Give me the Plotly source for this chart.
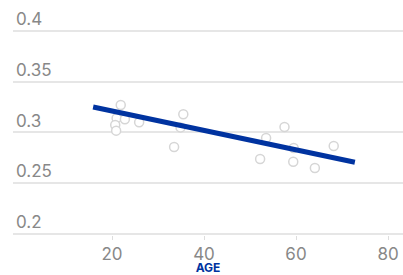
import plotly.graph_objects as go

# Scatter data: age vs value
ages = [21.9, 21.0, 22.8, 20.7, 20.9, 25.9, 35.5, 34.9, 33.5,
        53.5, 52.2, 57.5, 59.5, 59.4, 64.1, 68.2]
values = [0.327, 0.314, 0.313, 0.3074, 0.3018, 0.310, 0.318, 0.305, 0.2857,
          0.2946, 0.2739, 0.3054, 0.2847, 0.2712, 0.265, 0.2867]

# Trend line endpoints
trend_x = [15.9, 72.8]
trend_y = [0.3251, 0.2706]

x_ticks = [20, 40, 60, 80]
y_ticks = [0.2, 0.25, 0.3, 0.35, 0.4]
y_tick_labels = ["0.2", "0.25", "0.3", "0.35", "0.4"]

BLUE = "#0033a0"
FONT = "Inter, Roboto, sans-serif"

fig = go.Figure()
fig.add_trace(go.Scatter(
    x=ages, y=values, mode="markers",
    marker=dict(symbol="circle", size=9, color="white",
                line=dict(color="#d6d6d6", width=1.5)),
    hoverinfo="skip", showlegend=False,
))
fig.add_trace(go.Scatter(
    x=trend_x, y=trend_y, mode="lines",
    line=dict(color=BLUE, width=5),
    hoverinfo="skip", showlegend=False,
))

fig.update_layout(
    width=403, height=275,
    margin=dict(l=13, r=0, t=0, b=40),
    paper_bgcolor="white", plot_bgcolor="white",
    font=dict(family=FONT, color="#888888", size=17),
    xaxis=dict(
        range=[-1.52, 83.26],
        tickvals=x_ticks,
        automargin=False,
        showgrid=False, zeroline=False, showline=False,
        ticks="outside", ticklen=4, tickwidth=1, tickcolor="#dddddd",
        tickfont=dict(size=17, color="#888888"),
        title=dict(text="AGE", font=dict(size=12, color=BLUE, weight="bold"),
                   standoff=10),
    ),
    yaxis=dict(
        range=[0.199, 0.4305],
        tickvals=y_ticks, ticktext=y_tick_labels,
        automargin=False,
        showgrid=True, gridcolor="#e6e6e6", gridwidth=2,
        zeroline=False, showline=False,
        ticklabelposition="inside top",
        ticks="",
        tickfont=dict(size=17, color="#888888"),
    ),
)

fig.write_html("out.html", config={"displayModeBar": False},
               post_script="document.body.style.margin='0';")
